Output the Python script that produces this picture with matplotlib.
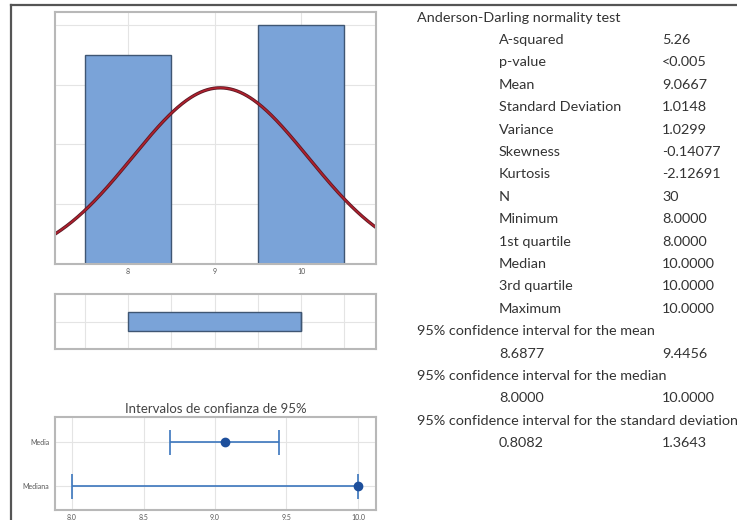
import matplotlib
matplotlib.use("Agg")
import matplotlib.pyplot as plt
import numpy as np
from matplotlib.lines import Line2D

plt.rcParams["font.family"] = ["Lato", "DejaVu Sans"]

# histogram data (bin centres / counts)
bin_centers = [8, 9, 10]
bin_counts = [14, 0, 16]
n_obs = 30
mean_val = 9.0667
sd_val = 1.0148

# box summary
q_min, q_1, q_med, q_3, q_max = 8.0, 8.0, 10.0, 10.0, 10.0

# confidence intervals
ci_labels = ["Media", "Mediana"]
ci_points = [9.0667, 10.0]
ci_low = [8.6877, 8.0]
ci_high = [9.4456, 10.0]

# summary table
header = "Anderson-Darling normality test"
stat_names = ["A-squared", "p-value", "Mean", "Standard Deviation", "Variance",
              "Skewness", "Kurtosis", "N", "Minimum", "1st quartile", "Median",
              "3rd quartile", "Maximum"]
stat_values = ["5.26", "<0.005", "9.0667", "1.0148", "1.0299", "-0.14077",
               "-2.12691", "30", "8.0000", "8.0000", "10.0000", "10.0000", "10.0000"]
ci_titles = ["95% confidence interval for the mean",
             "95% confidence interval for the median",
             "95% confidence interval for the standard deviation"]
ci_rows = [("8.6877", "9.4456"), ("8.0000", "10.0000"), ("0.8082", "1.3643")]

W, H = 737, 520
fig = plt.figure(figsize=(W / 100, H / 100), dpi=100)


def px_axes(left, top, right, bottom):
    return fig.add_axes([left / W, 1 - bottom / H, (right - left) / W, (bottom - top) / H])


def style(ax):
    for s in ax.spines.values():
        s.set_color("#b8b8b8")
        s.set_linewidth(1.5)
    ax.grid(True, color="#e4e4e4", linewidth=0.8)
    ax.set_axisbelow(True)
    ax.tick_params(length=0, labelsize=5, labelcolor="#555555", pad=3)


bar_fc = "#7aa3d8"
bar_ec = "#3f5673"

# --- histogram ---
ax1 = px_axes(55, 12, 376, 264)
style(ax1)
counts = np.array(bin_counts)
centers = np.array(bin_centers)
keep = counts > 0
ax1.bar(centers[keep], counts[keep], width=1.0, color=bar_fc, edgecolor=bar_ec, linewidth=1.0)
xs = np.linspace(7.1, 10.9, 300)
pdf = n_obs * np.exp(-0.5 * ((xs - mean_val) / sd_val) ** 2) / (sd_val * np.sqrt(2 * np.pi))
ax1.plot(xs, pdf, color="#5a1a26", linewidth=2.4)
ax1.plot(xs, pdf, color="#b0202c", linewidth=1.2)
ax1.set_xlim(7.156, 10.867)
ax1.set_ylim(0, 16.87)
ax1.set_xticks([8, 9, 10])
ax1.set_yticks([4, 8, 12, 16])
ax1.set_yticklabels([])

# --- boxplot ---
ax2 = px_axes(55, 294, 376, 349)
style(ax2)
ax2.bxp([{"whislo": q_min, "q1": q_1, "med": q_med, "q3": q_3, "whishi": q_max, "fliers": []}],
        positions=[0.5], widths=0.345, vert=False, patch_artist=True, showcaps=False,
        boxprops=dict(facecolor=bar_fc, edgecolor=bar_ec, linewidth=1.0),
        medianprops=dict(color=bar_ec, linewidth=1.0),
        whiskerprops=dict(color=bar_ec))
ax2.set_xlim(7.156, 10.867)
ax2.set_ylim(0, 1)
ax2.set_xticks(np.arange(7.5, 10.6, 0.5))
ax2.set_yticks([0.5])
ax2.set_xticklabels([])
ax2.set_yticklabels([])

# --- confidence intervals ---
ax3 = px_axes(55, 417, 376, 510)
style(ax3)
ypos = [1, 0]
for y, p, lo, hi in zip(ypos, ci_points, ci_low, ci_high):
    ax3.errorbar(p, y, xerr=[[p - lo], [hi - p]], fmt="o", color="#3b76bd",
                 ecolor="#3b76bd", elinewidth=1.2, capsize=9, capthick=1.2,
                 markersize=6, markerfacecolor="#1d4f9c", markeredgecolor="#1d4f9c")
ax3.set_xlim(7.881, 10.126)
ax3.set_ylim(-0.55, 1.57)
ax3.set_xticks([8.0, 8.5, 9.0, 9.5, 10.0])
ax3.set_xticklabels(["8.0", "8.5", "9.0", "9.5", "10.0"])
ax3.set_yticks(ypos)
ax3.set_yticklabels(ci_labels)
ax3.tick_params(axis="y", pad=4)
ax3.set_title("Intervalos de confianza de 95%", fontsize=9.5, color="#444444", pad=3)

# --- outer frame lines ---
fig.add_artist(Line2D([11 / W, 11 / W], [1 - 5 / H, 0], color="#555555", linewidth=1.6))
fig.add_artist(Line2D([11 / W, 1], [1 - 5 / H, 1 - 5 / H], color="#555555", linewidth=1.6))

# --- summary text ---
tc = "#333333"
fs = 10.4
fig.text(417 / W, 1 - 18 / H, header, fontsize=fs, color=tc, va="center")
y = 40
for name, val in zip(stat_names, stat_values):
    fig.text(499 / W, 1 - y / H, name, fontsize=fs, color=tc, va="center")
    fig.text(662 / W, 1 - y / H, val, fontsize=fs, color=tc, va="center")
    y += 22.4
for title, (a, b) in zip(ci_titles, ci_rows):
    fig.text(417 / W, 1 - y / H, title, fontsize=fs, color=tc, va="center")
    y += 22.4
    fig.text(499 / W, 1 - y / H, a, fontsize=fs, color=tc, va="center")
    fig.text(662 / W, 1 - y / H, b, fontsize=fs, color=tc, va="center")
    y += 22.4

fig.savefig("out.png", dpi=100)
